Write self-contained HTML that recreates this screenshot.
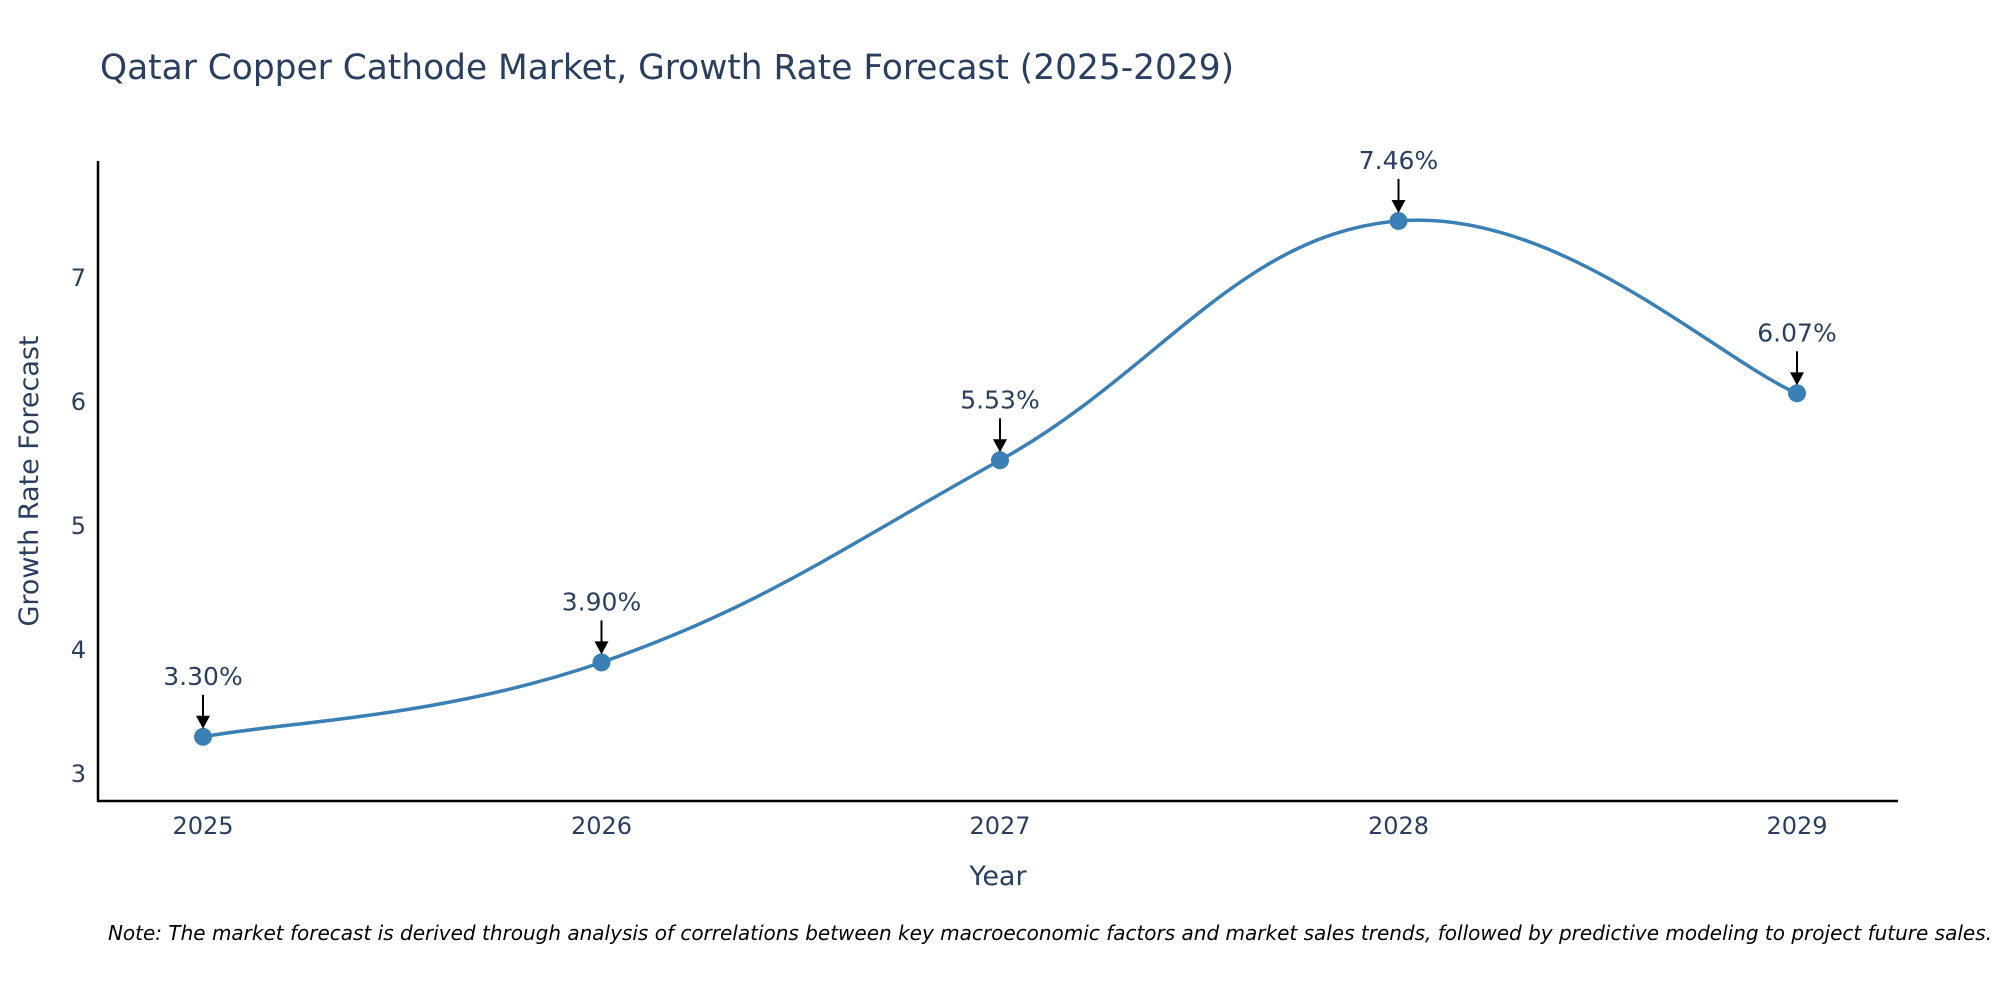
<!DOCTYPE html>
<html><head><meta charset="utf-8"><style>
body{margin:0;background:#fff;}
svg text{font-family:"DejaVu Sans","Liberation Sans",sans-serif;}
</style></head><body>
<svg id="chart" width="2000" height="1000" xmlns="http://www.w3.org/2000/svg">
<text x="100" y="79" font-size="34.4" fill="#2a3f5f">Qatar Copper Cathode Market, Growth Rate Forecast (2025-2029)</text>
<g id="yticks"></g>
<g id="xticks"></g>
<line x1="98" y1="161" x2="98" y2="802" stroke="#000" stroke-width="2.5"/>
<line x1="97" y1="801" x2="1898" y2="801" stroke="#000" stroke-width="2.5"/>
<path id="line" fill="none" stroke="#3b80b5" stroke-width="3.5"/>
<g id="marks"></g>
<text x="998" y="885" font-size="27" fill="#2a3f5f" text-anchor="middle">Year</text>
<text transform="translate(38,481) rotate(-90)" font-size="27" fill="#2a3f5f" text-anchor="middle">Growth Rate Forecast</text>
<text x="1992" y="940" font-size="20" font-style="italic" fill="#000" text-anchor="end">Note: The market forecast is derived through analysis of correlations between key macroeconomic factors and market sales trends, followed by predictive modeling to project future sales.</text>
</svg>
<script>
const years=[2025,2026,2027,2028,2029];
const values=[3.30,3.90,5.53,7.46,6.07];
const labels=["3.30%","3.90%","5.53%","7.46%","6.07%"];
const yTicks=[3,4,5,6,7];
const NS="http://www.w3.org/2000/svg";
function xs(v){return 203+(v-2025)*(1797-203)/4;}
function ys(v){return 774-(v-3)*124;}
function mk(t,a){const e=document.createElementNS(NS,t);for(const k in a)e.setAttribute(k,a[k]);return e;}
const yt=document.getElementById('yticks');
yTicks.forEach(t=>{const e=mk('text',{x:86,y:ys(t)+8,'font-size':24,fill:'#2a3f5f','text-anchor':'end'});


e.textContent=t;yt.appendChild(e);});
const xt=document.getElementById('xticks');
years.forEach(t=>{const e=mk('text',{x:xs(t),y:834,'font-size':24,fill:'#2a3f5f','text-anchor':'middle'});


e.textContent=t;xt.appendChild(e);});
const P=years.map((y,i)=>[xs(y),ys(values[i])]);
let d='M'+P[0][0]+','+P[0][1];const s=0.2;
for(let i=0;i<P.length-1;i++){const p0=P[Math.max(0,i-1)],p1=P[i],p2=P[i+1],p3=P[Math.min(P.length-1,i+2)];
const c1=[p1[0]+(p2[0]-p0[0])*s,p1[1]+(p2[1]-p0[1])*s];
const c2=[p2[0]-(p3[0]-p1[0])*s,p2[1]-(p3[1]-p1[1])*s];
d+=' C'+c1[0]+','+c1[1]+' '+c2[0]+','+c2[1]+' '+p2[0]+','+p2[1];}
document.getElementById('line').setAttribute('d',d);
const g=document.getElementById('marks');
P.forEach((p,i)=>{
const c=mk('circle',{cx:p[0],cy:p[1],r:9,fill:'#3b80b5'});


g.appendChild(c);
const l=mk('line',{x1:p[0],y1:p[1]-42,x2:p[0],y2:p[1]-20,stroke:'#000','stroke-width':2});


g.appendChild(l);
const h=mk('path',{d:`M${p[0]-7},${p[1]-21} L${p[0]+7},${p[1]-21} L${p[0]},${p[1]-8} Z`,fill:'#000'});


g.appendChild(h);
const t=mk('text',{x:p[0],y:p[1]-52,'font-size':25,fill:'#2a3f5f','text-anchor':'middle'});


t.textContent=labels[i];g.appendChild(t);});
</script>
</body></html>
